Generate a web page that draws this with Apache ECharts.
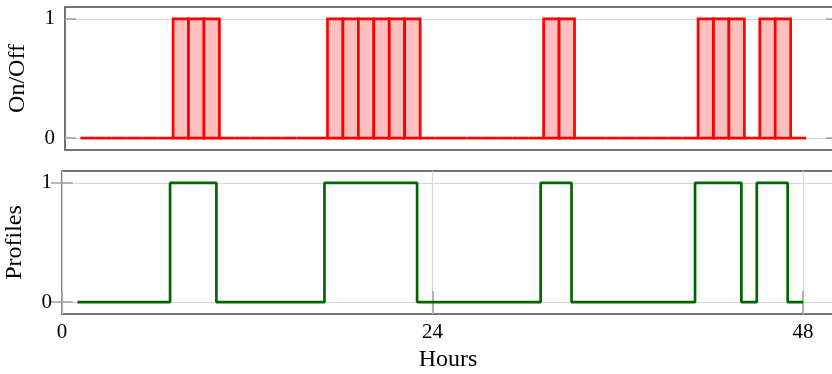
<!DOCTYPE html>
<html>
<head>
<meta charset="utf-8">
<script src="https://cdn.jsdelivr.net/npm/echarts@6/dist/echarts.min.js"></script>
<style>html,body{margin:0;padding:0;background:#fff}#c{width:832px;height:374px}</style>
</head>
<body>
<div id="c"></div>
<script>
// Hour at which each interval starts (top panel: bar from h to h+1)
const hours = [1,2,3,4,5,6,7,8,9,10,11,12,13,14,15,16,17,18,19,20,21,22,23,24,25,26,27,28,29,30,31,32,33,34,35,36,37,38,39,40,41,42,43,44,45,46,47,48];
// On/Off state per hour (hours 1..47)
const onOff = [0,0,0,0,0,0,1,1,1,0,0,0,0,0,0,0,1,1,1,1,1,1,0,0,0,0,0,0,0,0,1,1,0,0,0,0,0,0,0,0,1,1,1,0,1,1,0];
// Profile step values at hours 1..48
const profiles = [0,0,0,0,0,0,1,1,1,0,0,0,0,0,0,0,1,1,1,1,1,1,0,0,0,0,0,0,0,0,1,1,0,0,0,0,0,0,0,0,1,1,1,0,1,1,0,0];
const xTicks = [0,24,48];
const yTicks = [0,1];

const FONT = 'Liberation Serif';
const gridColor = '#d6d6d6';
const tickColor = '#a0a0a0';
const frameColor = '#454545';

const topData = onOff.map((v,i)=>[hours[i], v]);
const botData = profiles.map((v,i)=>[hours[i], v]);

function yAxisDef(gridIndex, name, right){
  return {
    type:'value', gridIndex, min:-0.1, max:1.1, position: right?'right':'left',
    name: right?'':name, nameLocation:'middle', nameGap:35, nameRotate:90,
    nameTextStyle:{fontFamily:FONT, fontSize:24, color:'#000'},
    axisLine:{show:false},
    axisTick:{show:true, inside:true, length:11, customValues:yTicks, lineStyle:{color:tickColor, width:1.5}},
    axisLabel:{show:!right, customValues:yTicks, margin:10, fontFamily:FONT, fontSize:21, color:'#000'},
    splitLine:{show:!right, lineStyle:{color:gridColor, width:1.2}}
  };
}

const option = {
  animation:false,
  grid:[
    {left:65, right:-5, top:7, height:143, outerBoundsMode:'none', containLabel:false, show:true, borderColor:frameColor, borderWidth:1.5, backgroundColor:'transparent'},
    {left:62, right:-2, top:171, height:143, outerBoundsMode:'none', containLabel:false, show:true, borderColor:frameColor, borderWidth:1.5, backgroundColor:'transparent'}
  ],
  xAxis:[
    {type:'value', gridIndex:0, min:0, max:50, axisLine:{show:false}, axisTick:{show:false}, axisLabel:{show:false}, splitLine:{show:false}},
    {type:'value', gridIndex:1, min:0, max:50, name:'Hours', nameLocation:'middle', nameGap:34,
      nameTextStyle:{fontFamily:FONT, fontSize:24, color:'#000'},
      axisLine:{show:false},
      axisTick:{show:true, inside:true, length:11, customValues:xTicks, lineStyle:{color:tickColor, width:1.5}},
      axisLabel:{customValues:xTicks, margin:8, fontFamily:FONT, fontSize:21, color:'#000'},
      splitLine:{show:true, lineStyle:{color:gridColor, width:1.2}}
    },
    {type:'value', gridIndex:1, min:0, max:50, position:'top', axisLine:{show:false},
      axisTick:{show:true, inside:true, length:11, customValues:xTicks, lineStyle:{color:tickColor, width:1.5}},
      axisLabel:{show:false}, splitLine:{show:false}}
  ],
  yAxis:[
    yAxisDef(0,'On/Off',false),
    yAxisDef(0,'',true),
    yAxisDef(1,'Profiles',false),
    yAxisDef(1,'',true)
  ],
  series:[
    {
      type:'custom', xAxisIndex:0, yAxisIndex:0, data:topData, encode:{x:0,y:1}, z:3,
      renderItem:function(params, api){
        const h = api.value(0), v = api.value(1);
        const p0 = api.coord([h, 0]);
        const p1 = api.coord([h+1, v]);
        if (v > 0) {
          return {type:'rect', shape:{x:p0[0], y:p1[1], width:p1[0]-p0[0], height:p0[1]-p1[1]},
            style:{fill:'#ffbfbf', stroke:'#ff0000', lineWidth:2.7}};
        }
        return {type:'line', shape:{x1:p0[0], y1:p0[1], x2:p1[0], y2:p0[1]},
          style:{stroke:'#ff0000', lineWidth:2.7}};
      }
    },
    {
      type:'line', xAxisIndex:1, yAxisIndex:2, data:botData, step:'end', showSymbol:false, z:3,
      lineStyle:{color:'#006600', width:2.7}
    }
  ]
};
echarts.init(document.getElementById('c')).setOption(option);
</script>
</body>
</html>
